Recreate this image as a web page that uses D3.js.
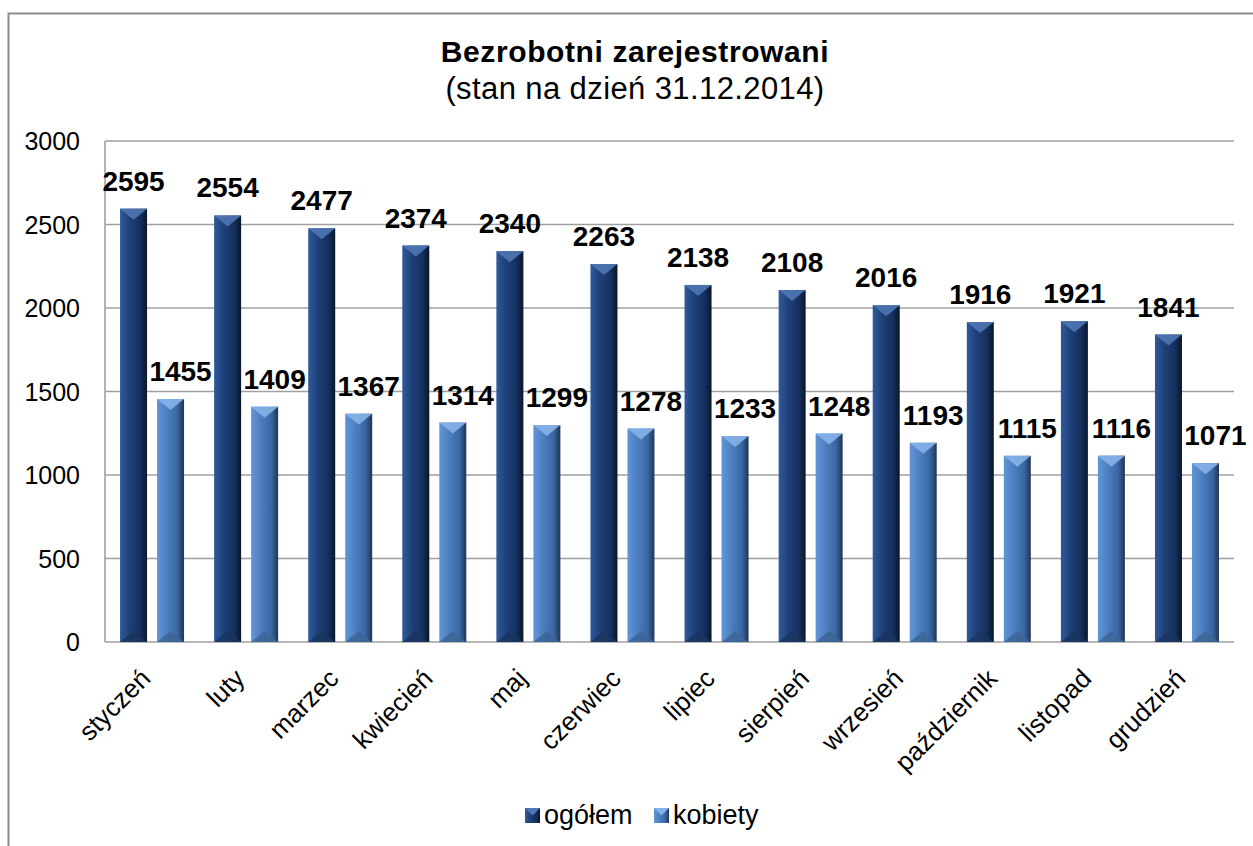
<!DOCTYPE html>
<html>
<head>
<meta charset="utf-8">
<script src="https://cdn.jsdelivr.net/npm/d3@7"></script>
<style>
  body { margin: 0; background: #fff; }
  text { font-family: "Liberation Sans", Arial, sans-serif; }
</style>
</head>
<body>
<svg id="chart" width="1253" height="846"></svg>
<script>
// data
var months = ["styczeń", "luty", "marzec", "kwiecień", "maj", "czerwiec", "lipiec",
              "sierpień", "wrzesień", "październik", "listopad", "grudzień"];
var ogolem  = [2595, 2554, 2477, 2374, 2340, 2263, 2138, 2108, 2016, 1916, 1921, 1841];
var kobiety = [1455, 1409, 1367, 1314, 1299, 1278, 1233, 1248, 1193, 1115, 1116, 1071];
var seriesNames = ["ogółem", "kobiety"];
var yTicks = [0, 500, 1000, 1500, 2000, 2500, 3000];

var svg = d3.select("#chart");
var plot = { left: 105, top: 141, right: 1234, bottom: 642 };

// outer border (runs off the page on the right and bottom)
svg.append("rect")
    .attr("x", 8.5).attr("y", 13.5)
    .attr("width", 1300).attr("height", 900)
    .attr("fill", "none").attr("stroke", "#8c8c8c").attr("stroke-width", 2);

// gradients
var defs = svg.append("defs");
var palettes = [
  { body: ["#2f5a9c", "#1f4079", "#15305e", "#0a1628"], top: "#4f77b3", bottom: "#1a365f" },
  { body: ["#6196d6", "#4d80c2", "#3a67a3", "#1f3554"], top: "#86b2e8", bottom: "#3d6597" }
];
palettes.forEach(function(p, i){
  var g = defs.append("linearGradient").attr("id", "grad" + i)
      .attr("x1", "0").attr("x2", "1").attr("y1", "0").attr("y2", "0");
  g.append("stop").attr("offset", "0").attr("stop-color", p.body[0]);
  g.append("stop").attr("offset", "0.35").attr("stop-color", p.body[1]);
  g.append("stop").attr("offset", "0.75").attr("stop-color", p.body[2]);
  g.append("stop").attr("offset", "1").attr("stop-color", p.body[3]);
});

var x0 = d3.scaleBand().domain(months).range([plot.left, plot.right]).paddingInner(0).paddingOuter(0);
var y = d3.scaleLinear().domain([0, 3000]).range([plot.bottom, plot.top]);

var barW = 27, barGap = 10;

// gridlines
svg.append("g").selectAll("line")
    .data(yTicks)
  .enter().append("line")
    .attr("x1", plot.left).attr("x2", plot.right)
    .attr("y1", d => y(d)).attr("y2", d => y(d))
    .attr("stroke", "#a0a0a0").attr("stroke-width", 1.6);

// left axis line
svg.append("line")
    .attr("x1", plot.left).attr("x2", plot.left)
    .attr("y1", plot.top).attr("y2", plot.bottom)
    .attr("stroke", "#a0a0a0").attr("stroke-width", 1.6);

// y tick labels
svg.append("g").selectAll("text")
    .data(yTicks)
  .enter().append("text")
    .attr("x", 80).attr("y", d => y(d) + 9)
    .attr("text-anchor", "end")
    .style("font-size", "25px")
    .attr("fill", "#000")
    .text(d => d);

// bars
var seriesData = [ogolem, kobiety];
seriesData.forEach(function(vals, s){
  var p = palettes[s];
  var g = svg.append("g").classed("series-" + s, true);
  var bars = g.selectAll("g")
      .data(vals.map((v, i) => ({ m: months[i], v: v })))
    .enter().append("g");

  function bx(d){ return x0(d.m) + x0.bandwidth()/2 - barW - barGap/2 + s*(barW + barGap); }

  bars.append("rect")
      .attr("x", bx)
      .attr("y", d => y(d.v))
      .attr("width", barW)
      .attr("height", d => y(0) - y(d.v))
      .attr("fill", "url(#grad" + s + ")");

  // bevel top
  bars.append("path")
      .attr("d", function(d){
        var l = bx(d), t = y(d.v);
        return "M" + l + "," + t + "L" + (l + barW) + "," + t + "L" + (l + barW/2) + "," + (t + 11) + "Z";
      })
      .attr("fill", p.top).attr("opacity", 0.9);

  // bevel bottom
  bars.append("path")
      .attr("d", function(d){
        var l = bx(d), b = y(0);
        return "M" + l + "," + b + "L" + (l + barW) + "," + b + "L" + (l + barW/2) + "," + (b - 11) + "Z";
      })
      .attr("fill", p.bottom).attr("opacity", 0.85);

  // data labels
  bars.append("text")
      .attr("x", d => bx(d) + barW/2 + (s === 1 ? 10 : 0))
      .attr("y", d => y(d.v) - 18)
      .attr("text-anchor", "middle")
      .style("font-size", "28px")
      .style("font-weight", "bold")
      .attr("fill", "#000")
      .text(d => d.v);
});

// x labels, rotated
svg.append("g").selectAll("text")
    .data(months)
  .enter().append("text")
    .attr("transform", d => "translate(" + (x0(d) + x0.bandwidth()/2) + "," + 680 + ") rotate(-45)")
    .attr("text-anchor", "end")
    .style("font-size", "26px")
    .attr("fill", "#000")
    .text(d => d);

// title
svg.append("text")
    .attr("x", 635).attr("y", 62)
    .attr("text-anchor", "middle")
    .style("font-size", "30px").style("font-weight", "bold")
    .style("letter-spacing", "0.6px")
    .text("Bezrobotni zarejestrowani");
svg.append("text")
    .attr("x", 635).attr("y", 99)
    .attr("text-anchor", "middle")
    .style("font-size", "31px")
    .style("letter-spacing", "0.4px")
    .text("(stan na dzień 31.12.2014)");

// legend
var legendX = [525, 654];
var legend = svg.append("g").selectAll("g")
    .data(seriesNames)
  .enter().append("g")
    .attr("transform", (d, i) => "translate(" + legendX[i] + ",808)");
legend.append("rect")
    .attr("width", 15).attr("height", 15)
    .attr("fill", (d, i) => "url(#grad" + i + ")");
legend.append("path")
    .attr("d", "M0,0L15,0L7.5,7.5Z")
    .attr("fill", (d, i) => palettes[i].top);
legend.append("text")
    .attr("x", 19).attr("y", 16)
    .style("font-size", "27px")
    .text(d => d);
</script>
</body>
</html>
